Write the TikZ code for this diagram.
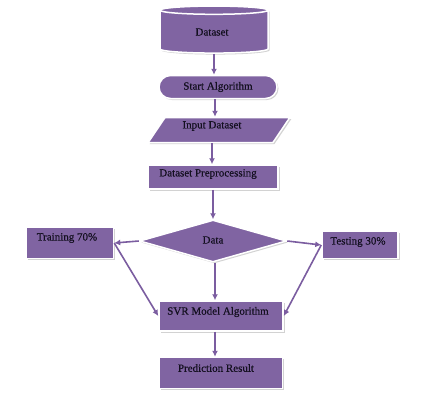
\documentclass[tikz,border=0pt]{standalone}
\usepackage{fontspec}
\setmainfont[FakeBold=0.5]{Liberation Serif}
\usetikzlibrary{shapes.geometric,shapes.misc,shadows,arrows.meta}
\definecolor{boxpurple}{HTML}{8064A2}
\definecolor{linepurple}{HTML}{7B5DA0}
\definecolor{textdark}{HTML}{141020}
% move a label inside its box without changing the box
\newcommand{\nudge}[3]{\raisebox{#2}[\height][\depth]{\hspace*{#1}#3\hspace*{-#1}}}
\begin{document}
\begin{tikzpicture}[x=1pt,y=-1pt,
    block/.style={fill=boxpurple,draw=white,line width=1.5pt,text=textdark,
        font=\fontsize{11}{13}\selectfont,inner sep=0pt,
        drop shadow={shadow xshift=1.5pt,shadow yshift=-1.5pt,fill=black!35}},
    flow/.style={draw=linepurple,line width=1.6pt,-{Latex[length=6pt,width=6pt]}}]
    \useasboundingbox (0,0) rectangle (448,408);
    \node[block,cylinder,shape border rotate=90,aspect=0.25,minimum width=108pt,minimum height=47pt](dataset) at (214,32) {\nudge{-2pt}{0pt}{Dataset}};
    \node[block,rounded rectangle,minimum width=118pt,minimum height=23pt](start) at (218,87) {Start Algorithm};
    \node[block,trapezium,trapezium left angle=46,trapezium right angle=134,minimum width=142pt,minimum height=25pt,trapezium stretches=true](input) at (219,130) {\nudge{-7pt}{4pt}{Input Dataset}};
    \node[block,rectangle,minimum width=130pt,minimum height=24pt](prep) at (213,177) {\nudge{-5pt}{3pt}{Dataset Preprocessing}};
    \node[block,diamond,minimum width=147pt,minimum height=42pt](data) at (213,241) {\nudge{0pt}{1pt}{Data}};
    \node[block,rectangle,minimum width=87pt,minimum height=31pt](train) at (70,243) {\nudge{-3pt}{5pt}{Training 70\%}};
    \node[block,rectangle,minimum width=76pt,minimum height=27pt](test) at (360,245) {\nudge{-2pt}{3pt}{Testing 30\%}};
    \node[block,rectangle,minimum width=124pt,minimum height=30pt](svr) at (221,316) {\nudge{-3pt}{4pt}{SVR Model Algorithm}};
    \node[block,rectangle,minimum width=123pt,minimum height=31pt](pred) at (221,373) {\nudge{-5pt}{5pt}{Prediction Result}};
    \draw[flow](dataset.south)--(dataset.south|-start.north);
    \draw[flow]([xshift=-3pt]start.south)--([xshift=-3pt]start.south|-input.north);
    \draw[flow]([xshift=-7pt]input.south)--([xshift=-7pt]input.south|-prep.north);
    \draw[flow](prep.south)--(prep.south|-data.north);
    \draw[flow](data.west)--(train.east);
    \draw[flow](data.east)--(test.west);
    \draw[flow](train.east)--(svr.west);
    \draw[flow](test.west)--(svr.east);
    \draw[flow]([xshift=2pt]data.south)--([xshift=2pt]data.south|-svr.north);
    \draw[flow]([xshift=-6pt]svr.south)--([xshift=-6pt]svr.south|-pred.north);
\end{tikzpicture}
\end{document}
